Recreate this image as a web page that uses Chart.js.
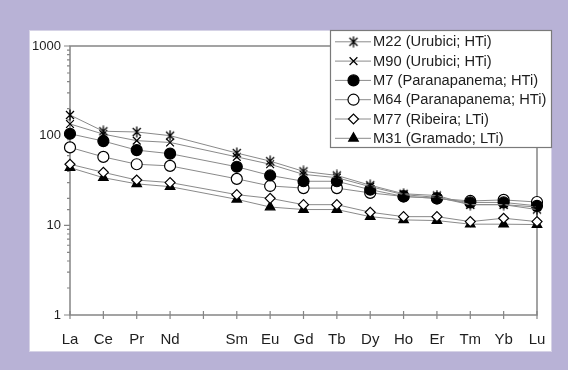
<!DOCTYPE html>
<html>
<head>
<meta charset="utf-8">
<script src="https://cdn.jsdelivr.net/npm/chart.js@4.4.1/dist/chart.umd.min.js"></script>
<style>
  html, body { margin: 0; padding: 0; background: #b8b2d6; }
  #wrap { width: 568px; height: 370px; }
</style>
</head>
<body>
<div id="wrap"><canvas id="ree" width="568" height="370"></canvas></div>
<script>
// Chondrite-normalised REE patterns (Pm has no analysis, kept as an empty slot)
const elements = ['La', 'Ce', 'Pr', 'Nd', '', 'Sm', 'Eu', 'Gd', 'Tb', 'Dy', 'Ho', 'Er', 'Tm', 'Yb', 'Lu'];

const m22 = [170, 112, 110, 100, null, 64, 52, 40, 36, 28, 22.5, 21.5, 17, 17, 15];
const m90 = [135, 104, 88, 84, null, 58, 48, 37, 34, 27, 22, 20.5, 17, 17, 16];
const m7  = [105, 87, 69, 63, null, 45, 36, 31, 31, 25, 21, 20, 18, 18, 16.5];
const m64 = [74, 58, 48, 46, null, 33, 27.5, 26, 26, 23, 21, 20, 18.7, 19.2, 18.2];
const m77 = [48, 39, 32, 30, null, 22, 20, 17, 17, 14, 12.5, 12.5, 11, 12, 11];
const m31 = [44, 34, 29, 27, null, 19.5, 16, 15, 15, 12.5, 11.5, 11.3, 10.3, 10.3, 10.2];

const seriesNames = [
  'M22 (Urubici; HTi)',
  'M90 (Urubici; HTi)',
  'M7 (Paranapanema; HTi)',
  'M64 (Paranapanema; HTi)',
  'M77 (Ribeira; LTi)',
  'M31 (Gramado; LTi)'
];
const yMin = 1;
const yMax = 1000;

const LINE = '#8a8a8a';
const AXIS = '#858585';
const INK = '#1e1e1e';
const FONT = '"Liberation Sans", Arial, sans-serif';

// six-spoke asterisk marker (X with a vertical bar)
function asteriskMarker() {
  const c = document.createElement('canvas');
  c.width = 12; c.height = 12;
  const g = c.getContext('2d');
  g.strokeStyle = '#000';
  g.lineWidth = 1.3;
  g.beginPath();
  g.moveTo(2, 2); g.lineTo(10, 10);
  g.moveTo(10, 2); g.lineTo(2, 10);
  g.moveTo(6, 0.5); g.lineTo(6, 11.5);
  g.stroke();
  return c;
}
const asterisk = asteriskMarker();

function series(label, data, style, radius, fill) {
  return {
    label: label,
    data: data,
    spanGaps: true,
    borderColor: LINE,
    borderWidth: 1,
    pointStyle: style,
    pointRadius: radius,
    pointHoverRadius: radius,
    pointBackgroundColor: fill,
    pointBorderColor: '#000',
    pointBorderWidth: 1.2,
    tension: 0
  };
}

const datasets = [
  series(seriesNames[0], m22, asterisk, 6, '#000'),
  series(seriesNames[1], m90, 'crossRot', 5.5, '#000'),
  series(seriesNames[2], m7, 'circle', 5.5, '#000'),
  series(seriesNames[3], m64, 'circle', 5.5, '#fff'),
  series(seriesNames[4], m77, 'rectRot', 5, '#fff'),
  series(seriesNames[5], m31, 'triangle', 5.5, '#000')
];

// Lavender page, white panel, framed plot area and crossing tick marks
const framePlugin = {
  id: 'frame',
  beforeDraw(chart) {
    const ctx = chart.ctx;
    ctx.save();
    ctx.fillStyle = '#b8b2d6';
    ctx.fillRect(0, 0, chart.width, chart.height);
    ctx.fillStyle = '#ffffff';
    ctx.fillRect(29, 30, 523, 322);
    ctx.strokeStyle = '#d6d3e6';
    ctx.lineWidth = 1;
    ctx.strokeRect(29.5, 30.5, 522, 321);
    ctx.restore();
  },
  beforeDatasetsDraw(chart) {
    const ctx = chart.ctx;
    const a = chart.chartArea;
    const xs = chart.scales.x;
    const ys = chart.scales.y;
    ctx.save();
    ctx.strokeStyle = AXIS;
    ctx.lineWidth = 1.5;
    ctx.strokeRect(a.left, a.top, a.right - a.left, a.bottom - a.top);
    ctx.lineWidth = 1.2;
    ctx.beginPath();
    xs.ticks.forEach((t, i) => {
      const px = xs.getPixelForTick(i);
      ctx.moveTo(px, a.bottom - 4);
      ctx.lineTo(px, a.bottom + 4);
    });
    ys.ticks.forEach((t) => {
      const py = ys.getPixelForValue(t.value);
      const lg = Math.log10(t.value);
      const major = Math.abs(lg - Math.round(lg)) < 1e-9;
      ctx.moveTo(a.left - (major ? 6 : 3), py);
      ctx.lineTo(a.left, py);
    });
    ctx.stroke();
    ctx.restore();
  },
  afterDraw(chart) {
    // legend box: line sample with marker, then the sample name
    const ctx = chart.ctx;
    const box = { x: 330, y: 30, w: 222, h: 118 };
    ctx.save();
    ctx.fillStyle = '#ffffff';
    ctx.fillRect(box.x, box.y, box.w, box.h);
    ctx.strokeStyle = '#7a7a7a';
    ctx.lineWidth = 1.2;
    ctx.strokeRect(box.x + 0.5, box.y + 0.5, box.w - 1, box.h - 1);
    ctx.font = '14.7px ' + FONT;
    ctx.textBaseline = 'middle';
    ctx.textAlign = 'left';
    chart.data.datasets.forEach((ds, i) => {
      const cy = 41.8 + i * 19.3;
      ctx.strokeStyle = LINE;
      ctx.lineWidth = 1;
      ctx.beginPath();
      ctx.moveTo(335, cy);
      ctx.lineTo(371, cy);
      ctx.stroke();
      ctx.fillStyle = ds.pointBackgroundColor;
      ctx.strokeStyle = ds.pointBorderColor;
      ctx.lineWidth = ds.pointBorderWidth;
      Chart.helpers.drawPoint(ctx, {
        pointStyle: ds.pointStyle,
        radius: ds.pointRadius,
        rotation: 0,
        borderWidth: ds.pointBorderWidth
      }, 353.5, cy);
      ctx.fillStyle = INK;
      ctx.fillText(ds.label, 373, cy + 0.5);
    });
    ctx.restore();
  }
};

new Chart(document.getElementById('ree'), {
  type: 'line',
  data: { labels: elements, datasets: datasets },
  options: {
    responsive: false,
    animation: false,
    devicePixelRatio: 1,
    layout: { padding: { left: 0, right: 31, top: 46, bottom: 0 } },
    plugins: {
      legend: { display: false },
      tooltip: { enabled: false }
    },
    scales: {
      x: {
        type: 'category',
        offset: false,
        border: { display: false },
        grid: { display: false, drawTicks: false },
        ticks: {
          autoSkip: false,
          maxRotation: 0,
          padding: 16,
          color: INK,
          font: { family: FONT, size: 15 }
        },
        afterFit(scale) { scale.height = 55; }
      },
      y: {
        type: 'logarithmic',
        min: yMin,
        max: yMax,
        border: { display: false },
        grid: { display: false, drawTicks: false },
        ticks: {
          autoSkip: false,
          padding: 9,
          color: INK,
          font: { family: FONT, size: 13 },
          callback(value) {
            const lg = Math.log10(value);
            return Math.abs(lg - Math.round(lg)) < 1e-9 ? String(value) : '';
          }
        },
        afterFit(scale) { scale.width = 70; }
      }
    }
  },
  plugins: [framePlugin]
});
</script>
</body>
</html>
